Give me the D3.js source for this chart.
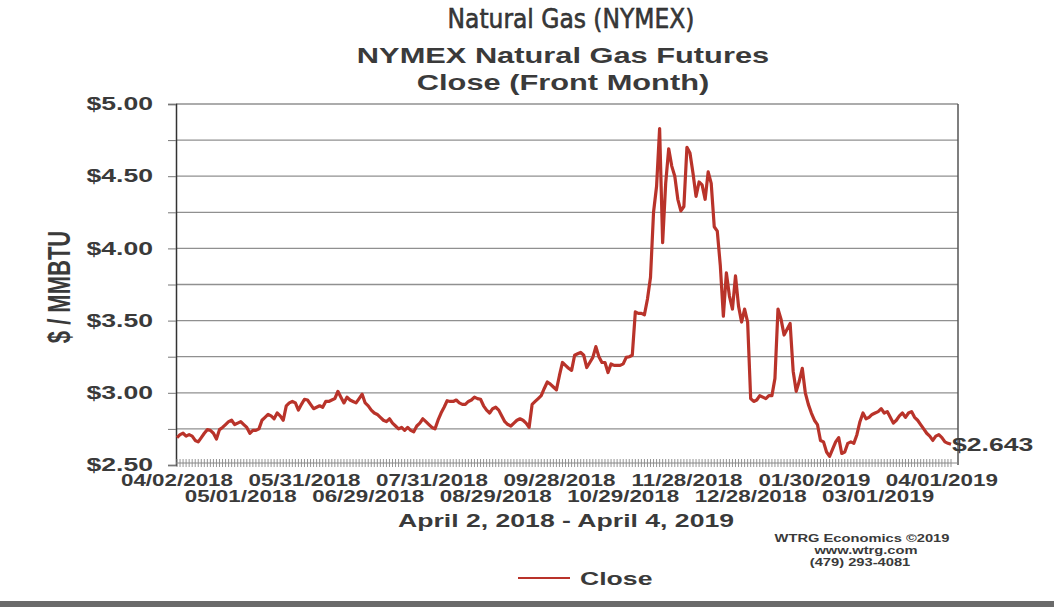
<!DOCTYPE html>
<html lang="en">
<head>
<meta charset="utf-8">
<style>
  body { margin: 0; background: #fff; }
  text { font-family: "Liberation Sans", Arial, sans-serif; font-weight: bold; fill: #3a3a3a; }
</style>
</head>
<body>
<script src="https://d3js.org/d3.v7.min.js"></script>
<script>
    // trading calendar (NYMEX, weekdays less exchange holidays)
    var startDate = "2018-04-02",
        endDate = "2019-04-04";
    var holidays = ["2018-05-28", "2018-07-04", "2018-09-03", "2018-11-22", "2018-12-25",
                    "2019-01-01", "2019-01-21", "2019-02-18"];

    // front month close, $/MMBTU, one value per trading day
    var closes = [
        2.69, 2.71, 2.72, 2.70, 2.71, 2.70, 2.67, 2.66, 2.69, 2.72,
        2.745, 2.74, 2.72, 2.68, 2.745, 2.76, 2.78, 2.80, 2.81, 2.78,
        2.79, 2.80, 2.78, 2.76, 2.72, 2.74, 2.74, 2.75, 2.81, 2.83,
        2.85, 2.84, 2.82, 2.86, 2.84, 2.81, 2.91, 2.93, 2.94, 2.93,
        2.88, 2.92, 2.955, 2.95, 2.92, 2.89, 2.90, 2.91, 2.90, 2.94,
        2.94, 2.95, 2.96, 3.01, 2.97, 2.93, 2.97, 2.95, 2.94, 2.93,
        2.96, 2.99, 2.93, 2.91, 2.88, 2.86, 2.85, 2.83, 2.81, 2.80,
        2.82, 2.79, 2.77, 2.75, 2.76, 2.74, 2.76, 2.74, 2.73, 2.77,
        2.79, 2.82, 2.80, 2.78, 2.76, 2.75, 2.81, 2.86, 2.90, 2.945,
        2.94, 2.94, 2.95, 2.93, 2.92, 2.92, 2.94, 2.95, 2.97, 2.96,
        2.955, 2.91, 2.88, 2.86, 2.89, 2.90, 2.88, 2.84, 2.80, 2.78,
        2.77, 2.79, 2.81, 2.82, 2.81, 2.79, 2.76, 2.92, 2.94, 2.96,
        2.98, 3.03, 3.075, 3.06, 3.04, 3.02, 3.12, 3.21, 3.19, 3.17,
        3.155, 3.26, 3.27, 3.28, 3.26, 3.175, 3.21, 3.245, 3.32, 3.25,
        3.21, 3.21, 3.14, 3.20, 3.19, 3.19, 3.19, 3.20, 3.245, 3.25,
        3.26, 3.56, 3.55, 3.55, 3.54, 3.65, 3.80, 4.25, 4.43, 4.83,
        4.04, 4.45, 4.69, 4.57, 4.50, 4.34, 4.26, 4.29, 4.70, 4.66,
        4.52, 4.36, 4.46, 4.44, 4.34, 4.53, 4.45, 4.15, 4.12, 3.88,
        3.53, 3.83, 3.67, 3.58, 3.81, 3.60, 3.49, 3.58, 3.49, 2.96,
        2.94, 2.95, 2.98, 2.97, 2.96, 2.98, 2.98, 3.10, 3.58, 3.51,
        3.40, 3.44, 3.48, 3.15, 3.01, 3.08, 3.17, 3.00, 2.92, 2.86,
        2.81, 2.78, 2.67, 2.66, 2.59, 2.56, 2.61, 2.66, 2.69, 2.58,
        2.59, 2.65, 2.66, 2.65, 2.71, 2.80, 2.86, 2.82, 2.83, 2.85,
        2.86, 2.87, 2.89, 2.86, 2.87, 2.83, 2.79, 2.81, 2.84, 2.86,
        2.83, 2.86, 2.87, 2.83, 2.81, 2.78, 2.75, 2.72, 2.70, 2.67,
        2.70, 2.71, 2.69, 2.66, 2.65, 2.643
    ];

    var tickLabels = ["04/02/2018", "05/01/2018", "05/31/2018", "06/29/2018", "07/31/2018",
                      "08/29/2018", "09/28/2018", "10/29/2018", "11/28/2018", "12/28/2018",
                      "01/30/2019", "03/01/2019", "04/01/2019"];
    var yLabels = [2.5, 3.0, 3.5, 4.0, 4.5, 5.0];
    var yGrid = [2.75, 3.0, 3.25, 3.5, 3.75, 4.0, 4.25, 4.5, 4.75, 5.0];
    var lastLabel = "$2.643";

    var width = 1054,
        height = 607,
        plotL = 176, plotR = 958, plotT = 104, plotB = 465,
        sx = 1.4; // the chart's lettering is drawn wide

    var iso = d3.timeFormat("%Y-%m-%d"),
        mdy = d3.timeFormat("%m/%d/%Y"),
        parse = d3.timeParse("%Y-%m-%d");

    var days = d3.timeDay.range(parse(startDate), d3.timeDay.offset(parse(endDate), 1))
        .filter(function (d) { return d.getDay() % 6 !== 0 && holidays.indexOf(iso(d)) < 0; })
        .map(mdy);

    var x = d3.scalePoint().domain(days).range([plotL + 1, 951]);
    var y = d3.scaleLinear().domain([2.5, 5]).range([plotB, plotT]);

    var svg = d3.select("body").append("svg")
        .attr("width", width)
        .attr("height", height);

    // gridlines
    svg.append("g").selectAll("line")
        .data(yGrid)
        .enter().append("line")
        .attr("x1", plotL).attr("x2", plotR)
        .attr("y1", function (d) { return y(d); })
        .attr("y2", function (d) { return y(d); })
        .attr("stroke", "#909090")
        .attr("stroke-width", 1.3);

    // left axis with little ticks at each gridline
    var yAxis = svg.append("g")
        .attr("transform", "translate(" + plotL + ",0)")
        .call(d3.axisLeft(y).tickValues(yGrid.concat([2.5])).tickSize(8)
            .tickFormat(function (d) { return yLabels.indexOf(d) >= 0 ? "$" + d3.format(".2f")(d) : ""; }));
    yAxis.select(".domain").attr("stroke", "#333").attr("stroke-width", 1.5);
    yAxis.selectAll(".tick line").attr("stroke", "#777");
    yAxis.selectAll("text")
        .attr("x", -23 / sx)
        .attr("dy", "0.3em")
        .attr("transform", "scale(" + sx + ",1)")
        .style("font-size", "19px")
        .style("font-family", "'Liberation Sans', Arial, sans-serif")
        .style("font-weight", "bold")
        .attr("fill", "#3a3a3a");

    // right border
    svg.append("line")
        .attr("x1", plotR).attr("x2", plotR)
        .attr("y1", plotT).attr("y2", plotB)
        .attr("stroke", "#555").attr("stroke-width", 1.5);

    // daily tick strip along the bottom
    svg.append("line")
        .attr("x1", plotL).attr("x2", plotR)
        .attr("y1", plotB - 2).attr("y2", plotB - 2)
        .attr("stroke", "#888").attr("stroke-width", 1);
    svg.append("g").selectAll("line")
        .data(days)
        .enter().append("line")
        .attr("x1", function (d) { return x(d); })
        .attr("x2", function (d) { return x(d); })
        .attr("y1", plotB - 6).attr("y2", plotB + 2)
        .attr("stroke", "#888")
        .attr("stroke-width", 0.9);

    // date labels, two staggered rows
    svg.append("g").selectAll("text")
        .data(tickLabels)
        .enter().append("text")
        .attr("transform", function (d, i) {
            return "translate(" + x(d) + "," + (i % 2 ? 502 : 486) + ") scale(" + sx + ",1)";
        })
        .attr("text-anchor", "middle")
        .style("font-size", "16px")
        .text(function (d) { return d; });

    // price line
    var line = d3.line()
        .x(function (d, i) { return x(days[i]); })
        .y(function (d) { return y(d); });

    svg.append("path")
        .datum(closes)
        .attr("d", line)
        .attr("fill", "none")
        .attr("stroke", "#b9332a")
        .attr("stroke-width", 3.2)
        .attr("stroke-linejoin", "round");

    svg.append("text")
        .attr("transform", "translate(952," + (y(closes[closes.length - 1]) + 7) + ") scale(" + sx + ",1)")
        .style("font-size", "19px")
        .text(lastLabel);

    // titles
    svg.append("text")
        .attr("x", 571).attr("y", 28)
        .attr("text-anchor", "middle")
        .style("font-family", "'Liberation Sans Narrow', 'DejaVu Sans Condensed', sans-serif")
        .style("font-weight", "normal")
        .style("font-size", "26px")
        .style("stroke", "#222")
        .style("stroke-width", 0.5)
        .attr("fill", "#222")
        .text("Natural Gas (NYMEX)");

    function wideText(str, cx, cy, size) {
        svg.append("text")
            .attr("transform", "translate(" + cx + "," + cy + ") scale(" + sx + ",1)")
            .attr("text-anchor", "middle")
            .style("font-size", size + "px")
            .text(str);
    }
    wideText("NYMEX Natural Gas Futures", 563, 63, 22);
    wideText("Close (Front Month)", 563, 90, 22);
    wideText("April 2, 2018 - April 4, 2019", 566, 527, 19);
    wideText("WTRG Economics  \u00a92019", 862, 542, 10.5);
    wideText("www.wtrg.com", 866, 554, 10.5);
    wideText("(479) 293-4081", 860, 566, 10.5);

    // y title
    svg.append("text")
        .attr("transform", "translate(70,287) rotate(-90) scale(1," + sx + ")")
        .attr("text-anchor", "middle")
        .style("font-size", "22px")
        .text("$ / MMBTU");

    // legend
    svg.append("line")
        .attr("x1", 518).attr("x2", 570)
        .attr("y1", 578).attr("y2", 578)
        .attr("stroke", "#b9332a").attr("stroke-width", 2);
    svg.append("text")
        .attr("transform", "translate(580,585) scale(" + sx + ",1)")
        .style("font-size", "19px")
        .text("Close");

    // bottom edge of the page
    svg.append("rect")
        .attr("x", 0).attr("y", 601)
        .attr("width", width).attr("height", 6)
        .attr("fill", "#6a6a6a");
</script>
</body>
</html>
